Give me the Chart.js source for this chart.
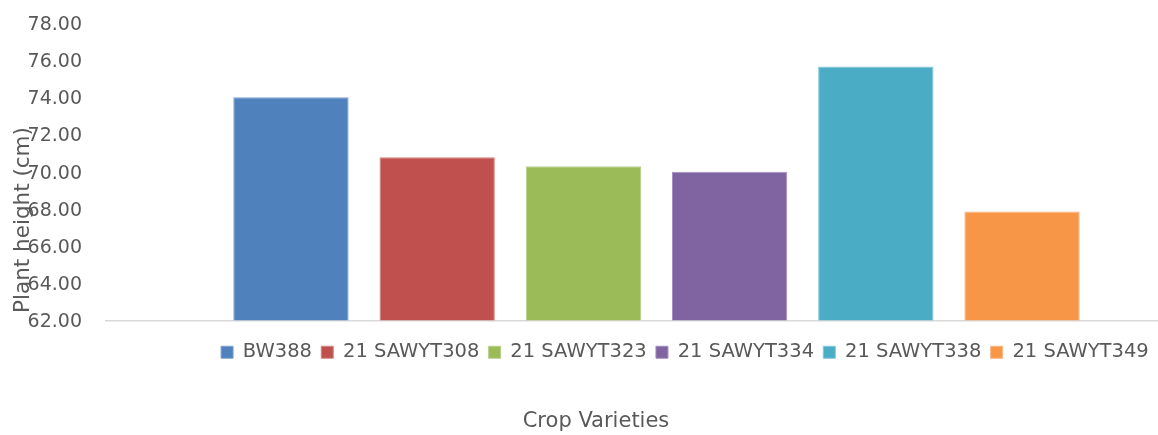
<!DOCTYPE html>
<html>
<head>
<meta charset="utf-8">
<title>Plant height by crop variety</title>
<script src="https://cdn.jsdelivr.net/npm/chart.js@4"></script>
<style>
  html, body { margin: 0; padding: 0; background: #ffffff; }
  #wrap { width: 1158px; height: 435px; }
</style>
</head>
<body>
<div id="wrap"><canvas id="chart" width="1158" height="435"></canvas></div>
<script>
// Varieties and their mean plant height (cm)
const varieties = ['BW388', '21 SAWYT308', '21 SAWYT323', '21 SAWYT334', '21 SAWYT338', '21 SAWYT349'];
const heights = [74.00, 70.78, 70.29, 70.00, 75.66, 67.86];
const barColors = ['#4F81BD', '#C0504D', '#9BBB59', '#8064A2', '#4BACC6', '#F79646'];
const edgeColors = ['#7FA2D0', '#D48684', '#B7CF8A', '#A28DBE', '#84C6D9', '#F9B584'];
const yMin = 62, yMax = 78, yStep = 2;
const yTitle = 'Plant height (cm)';
const xTitle = 'Crop Varieties';

const textColor = '#595959';
const fontFamily = '"DejaVu Sans", "Noto Sans", sans-serif';

// Axis titles: the vertical one sits over the tick label column,
// the horizontal one below the legend
const axisTitlePlugin = {
  id: 'axisTitles',
  afterDraw(chart) {
    const { ctx } = chart;
    ctx.save();
    ctx.fillStyle = textColor;
    ctx.textAlign = 'center';
    ctx.textBaseline = 'middle';

    ctx.font = '21px ' + fontFamily;
    ctx.fillText(xTitle, 596, 422);

    ctx.translate(23, 220);
    ctx.rotate(-Math.PI / 2);
    ctx.font = '21.5px ' + fontFamily;
    ctx.fillText(yTitle, 0, 0);
    ctx.restore();
  }
};

const datasets = varieties.map((name, i) => ({
  label: name,
  data: [heights[i]],
  backgroundColor: barColors[i],
  borderColor: edgeColors[i],
  borderWidth: 1,
  categoryPercentage: 0.8747,
  barPercentage: 0.789
}));

new Chart(document.getElementById('chart'), {
  type: 'bar',
  data: { labels: [''], datasets },
  options: {
    responsive: false,
    animation: false,
    layout: { padding: { left: 0, right: 0, top: 23, bottom: 63 } },
    scales: {
      x: {
        display: true,
        ticks: { display: false },
        grid: { display: false },
        border: { display: false },
        afterFit(scale) { scale.height = 13; }
      },
      y: {
        min: yMin,
        max: yMax,
        ticks: {
          stepSize: yStep,
          padding: 23,
          labelOffset: 2,
          color: textColor,
          font: { family: fontFamily, size: 19 },
          callback: (v) => Number(v).toFixed(2)
        },
        grid: {
          color: (c) => (c.tick && c.tick.value === yMin ? '#D9D9D9' : 'rgba(0,0,0,0)'),
          lineWidth: 1.5,
          drawTicks: true,
          tickLength: 50
        },
        border: { display: false },
        afterFit(scale) {
          scale.width = 155;
          scale.paddingTop = 0;
          scale.paddingBottom = 0;
        }
      }
    },
    plugins: {
      legend: {
        position: 'bottom',
        align: 'end',
        labels: {
          color: textColor,
          font: { family: fontFamily, size: 19.5 },
          boxWidth: 12,
          boxHeight: 12,
          padding: 9.25
        }
      },
      tooltip: { enabled: false }
    }
  },
  plugins: [axisTitlePlugin]
});
</script>
</body>
</html>
